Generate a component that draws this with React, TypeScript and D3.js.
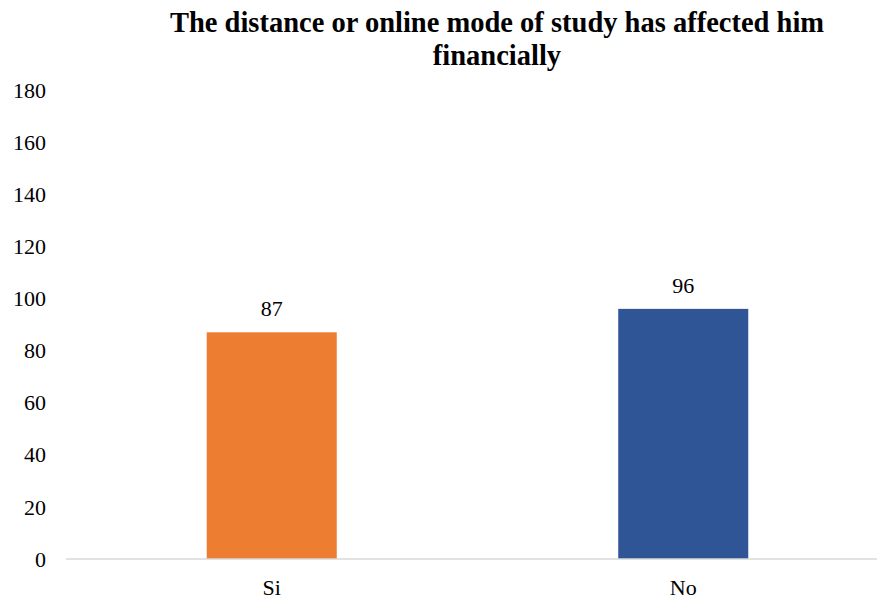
import React, { useEffect, useRef } from "react";
import * as d3 from "d3";

const categories = ["Si", "No"];
const values = [87, 96];
const colors = ["#ED7D31", "#2F5597"];
const yTicks = [0, 20, 40, 60, 80, 100, 120, 140, 160, 180];
const titleLines = ["The distance or online mode of study has affected him", "financially"];

export default function App() {
  const ref = useRef<SVGSVGElement | null>(null);

  useEffect(() => {
    const svg = d3.select(ref.current);
    svg.selectAll("*").remove();
    const W = 877;
    const H = 600;
    const font = "Times New Roman, Liberation Serif, DejaVu Serif, serif";

    svg.append("rect").attr("width", W).attr("height", H).attr("fill", "#fff");

    const x = d3.scaleBand().domain(categories).range([66, 889]).padding(0);
    const y = d3.scaleLinear().domain([0, 180]).range([559, 90]);

    // title
    svg
      .append("g")
      .selectAll("text")
      .data(titleLines)
      .join("text")
      .attr("x", 497)
      .attr("y", (_, i) => 32 + i * 33)
      .attr("text-anchor", "middle")
      .style("font-family", font)
      .attr("font-weight", "bold")
      .attr("font-size", 28.5)
      .attr("fill", "#000")
      .text((d) => d);

    // y labels
    svg
      .append("g")
      .selectAll("text")
      .data(yTicks)
      .join("text")
      .attr("x", 46)
      .attr("y", (d) => y(d))
      .attr("dy", "0.35em")
      .attr("text-anchor", "end")
      .style("font-family", font)
      .attr("font-size", 22)
      .attr("fill", "#000")
      .text((d) => d);

    // bars
    const bw = x.bandwidth() * 0.316;
    svg
      .append("g")
      .selectAll("rect")
      .data(values)
      .join("rect")
      .attr("x", (_, i) => x(categories[i])! + x.bandwidth() / 2 - bw / 2)
      .attr("y", (d) => y(d))
      .attr("width", bw)
      .attr("height", (d) => y(0) - y(d))
      .attr("fill", (_, i) => colors[i]);

    // baseline
    svg
      .append("line")
      .attr("x1", 66)
      .attr("x2", W)
      .attr("y1", y(0))
      .attr("y2", y(0))
      .attr("stroke", "#d9d9d9")
      .attr("stroke-width", 1.5);

    // value labels
    svg
      .append("g")
      .selectAll("text")
      .data(values)
      .join("text")
      .attr("x", (_, i) => x(categories[i])! + x.bandwidth() / 2)
      .attr("y", (d) => y(d) - 16)
      .attr("text-anchor", "middle")
      .style("font-family", font)
      .attr("font-size", 22)
      .attr("fill", "#000")
      .text((d) => d);

    // category labels
    svg
      .append("g")
      .selectAll("text")
      .data(categories)
      .join("text")
      .attr("x", (d) => x(d)! + x.bandwidth() / 2)
      .attr("y", 595)
      .attr("text-anchor", "middle")
      .style("font-family", font)
      .attr("font-size", 22)
      .attr("fill", "#000")
      .text((d) => d);
  }, []);

  return (
    <svg
      ref={ref}
      width={877}
      height={600}
      style={{ position: "absolute", left: 0, top: 0, display: "block" }}
    />
  );
}
